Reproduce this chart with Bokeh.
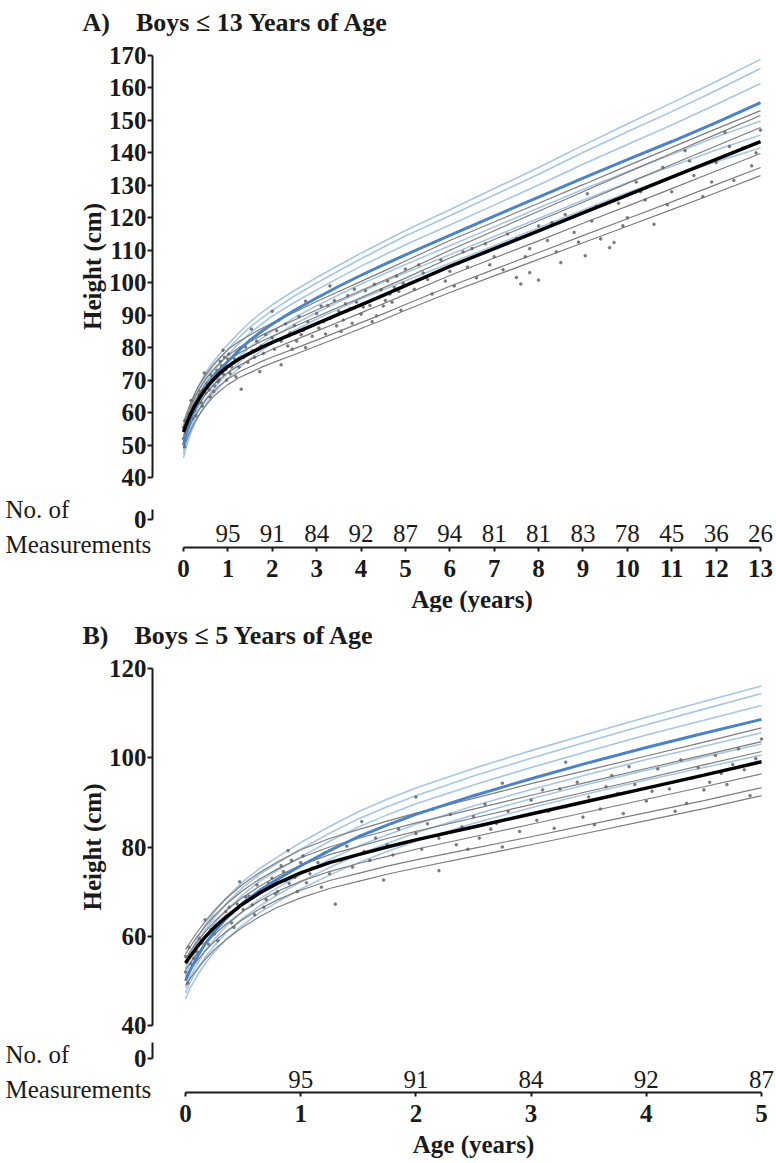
from bokeh.plotting import figure
from bokeh.models import LinearAxis, FixedTicker, Range1d, CustomJSTickFormatter
from bokeh.layouts import column
from bokeh.core.properties import value
from bokeh.embed import file_html
from bokeh.resources import INLINE

ages = [0, 0.04, 0.1, 0.17, 0.25, 0.35, 0.5, 0.65, 0.8, 1,
        1.25, 1.5, 1.75, 2, 2.5, 3, 3.5, 4, 4.5, 5,
        6, 7, 8, 9, 10, 11, 12, 13]

# reference percentiles (light blue, median in darker blue)
ref_p3 = [46.0, 48.4, 51.1, 53.9, 56.5, 59.2, 62.6, 65.4, 67.7, 70.6,
          73.7, 76.5, 79.0, 81.3, 85.3, 88.8, 92.0, 95.0, 97.8, 100.6,
          106.0, 111.4, 116.9, 122.4, 127.7, 132.6, 137.3, 141.5]
ref_p10 = [47.3, 49.7, 52.5, 55.3, 57.9, 60.7, 64.1, 66.9, 69.3, 72.2,
           75.4, 78.3, 80.8, 83.2, 87.2, 90.8, 94.1, 97.2, 100.2, 103.1,
           108.6, 114.2, 119.8, 125.4, 130.8, 135.9, 140.9, 145.5]
ref_p25 = [48.5, 50.9, 53.7, 56.7, 59.3, 62.2, 65.7, 68.5, 70.9, 73.9,
           77.2, 80.2, 82.7, 85.1, 89.2, 92.9, 96.3, 99.6, 102.6, 105.6,
           111.4, 117.2, 123.0, 128.7, 134.2, 139.5, 144.9, 149.8]
ref_p50 = [50.0, 52.4, 55.3, 58.3, 61.0, 63.9, 67.5, 70.4, 72.8, 75.8,
           79.2, 82.3, 84.9, 87.3, 91.5, 95.3, 98.9, 102.3, 105.5, 108.6,
           114.6, 120.5, 126.4, 132.2, 137.9, 143.5, 149.3, 155.5]
ref_p75 = [51.5, 53.9, 56.9, 60.0, 62.8, 65.7, 69.4, 72.4, 74.8, 77.8,
           81.3, 84.5, 87.2, 89.7, 93.9, 97.8, 101.5, 105.1, 108.4, 111.7,
           117.8, 123.9, 130.1, 136.5, 142.6, 148.6, 154.9, 161.4]
ref_p90 = [52.8, 55.3, 58.3, 61.4, 64.2, 67.2, 71.0, 74.0, 76.4, 79.5,
           83.1, 86.3, 89.0, 91.5, 95.9, 99.9, 103.7, 107.4, 110.9, 114.4,
           120.6, 127.0, 133.4, 140.1, 146.5, 152.7, 159.2, 166.0]
ref_p97 = [53.8, 56.3, 59.3, 62.5, 65.4, 68.5, 72.3, 75.3, 77.8, 81.0,
           84.6, 87.9, 90.7, 93.2, 97.6, 101.6, 105.4, 109.1, 112.6, 116.1,
           122.5, 129.0, 135.5, 142.3, 148.9, 155.4, 162.0, 168.8]

# study percentiles (grey, median in black)
study_p3 = [49.0, 50.5, 52.6, 54.8, 57.0, 59.2, 62.1, 64.5, 66.5, 68.6,
            70.7, 72.3, 73.9, 75.3, 77.9, 80.5, 83.2, 85.9, 88.6, 91.5,
            97.0, 102.1, 107.2, 112.3, 117.4, 122.5, 127.7, 133.0]
study_p10 = [51.0, 52.5, 54.5, 56.7, 58.8, 61.0, 63.8, 66.2, 68.2, 70.3,
             72.5, 74.1, 75.7, 77.1, 79.7, 82.3, 85.0, 87.7, 90.4, 93.3,
             98.9, 104.1, 109.3, 114.5, 119.7, 124.9, 130.2, 135.5]
study_p25 = [52.5, 54.0, 56.1, 58.2, 60.4, 62.7, 65.6, 68.0, 70.1, 72.3,
             74.5, 76.3, 77.9, 79.5, 82.3, 85.1, 87.9, 90.7, 93.5, 96.4,
             102.2, 107.6, 112.9, 118.3, 123.6, 129.0, 134.4, 139.8]
study_p50 = [54.0, 55.5, 57.6, 59.8, 62.0, 64.3, 67.3, 69.8, 71.9, 74.2,
             76.5, 78.3, 80.0, 81.6, 84.5, 87.4, 90.3, 93.2, 96.1, 99.1,
             105.0, 110.5, 116.0, 121.5, 127.0, 132.5, 138.0, 143.5]
study_p75 = [55.0, 56.6, 58.8, 61.0, 63.3, 65.7, 68.8, 71.3, 73.5, 75.9,
             78.3, 80.1, 81.9, 83.5, 86.5, 89.5, 92.5, 95.4, 98.4, 101.4,
             107.6, 113.3, 119.1, 124.8, 130.6, 136.4, 142.1, 147.8]
study_p90 = [56.0, 57.6, 59.9, 62.2, 64.6, 67.1, 70.3, 72.9, 75.1, 77.6,
             80.0, 81.9, 83.7, 85.4, 88.5, 91.6, 94.6, 97.6, 100.6, 103.6,
             110.0, 116.0, 122.0, 128.0, 134.0, 139.9, 145.7, 151.5]
study_p97 = [57.0, 58.6, 60.9, 63.3, 65.8, 68.4, 71.7, 74.4, 76.7, 79.4,
             81.9, 83.9, 85.8, 87.6, 90.9, 94.2, 97.3, 100.4, 103.5, 106.7,
             113.0, 118.7, 124.5, 130.2, 136.0, 141.7, 147.4, 153.0]

# individual measurements
dot_age = [
    0.00, 0.00, 0.02, 0.03, 0.05, 0.10, 0.12, 0.17, 0.20, 0.25,
    0.30, 0.35, 0.40, 0.45, 0.47, 0.50, 0.55, 0.60, 0.65, 0.70,
    0.75, 0.80, 0.85, 0.89, 0.90, 0.95, 1.00, 1.05, 1.10, 1.20,
    1.25, 1.30, 1.35, 1.40, 1.45, 1.53, 1.55, 1.60, 1.65, 1.72,
    1.75, 1.80, 1.85, 1.90, 2.00, 2.00, 2.05, 2.10, 2.20, 2.20,
    2.30, 2.35, 2.40, 2.50, 2.55, 2.60, 2.70, 2.75, 2.75, 2.80,
    2.90, 3.00, 3.05, 3.10, 3.20, 3.30, 3.30, 3.40, 3.45, 3.50,
    3.60, 3.70, 3.75, 3.80, 3.90, 4.00, 4.10, 4.20, 4.30, 4.35,
    4.40, 4.50, 4.60, 4.65, 4.70, 4.80, 4.85, 4.90, 4.95, 5.00,
    5.20, 5.30, 5.50, 5.60, 5.80, 6.00, 6.10, 6.30, 6.40, 6.60,
    6.80, 7.00, 7.20, 7.50, 7.50, 7.60, 7.80, 7.80, 8.00, 8.00,
    8.20, 8.40, 8.50, 8.60, 8.80, 9.05, 9.10, 9.20, 9.40, 9.60,
    9.70, 9.80, 10.0, 10.2, 10.4, 10.6, 10.8, 11.0, 11.3, 11.5,
    11.7, 12.0, 12.2, 12.4, 12.6, 12.8, 13.0, 0.07, 0.14, 0.22,
    0.28, 0.38, 0.42, 0.52, 0.58, 0.62, 0.68, 0.72, 0.78, 0.83,
    0.87, 0.92, 0.97, 1.02, 1.08, 1.15, 1.18, 2.15, 2.45, 2.65,
    3.15, 3.25, 3.55, 3.65, 3.85, 4.05, 4.25, 4.45, 4.55, 4.75,
    5.40, 5.90, 6.20, 6.50, 6.90, 7.30, 7.70, 8.30, 8.90, 9.30,
    9.90, 10.3, 10.9, 11.4, 11.9, 12.3, 12.9,
]
dot_height = [
    52.0, 55.5, 49.5, 57.5, 53.8, 56.5, 59.5, 63.7, 58.2, 60.5,
    62.8, 65.5, 63.0, 67.2, 72.2, 66.0, 69.0, 64.8, 70.3, 68.2,
    73.0, 70.0, 74.5, 79.2, 71.8, 73.2, 76.5, 72.0, 75.3, 78.6,
    74.0, 67.2, 77.0, 80.2, 75.5, 85.7, 79.0, 77.0, 82.0, 72.6,
    80.5, 78.2, 84.0, 81.0, 91.2, 83.0, 79.5, 85.2, 74.7, 82.0,
    87.3, 80.5, 84.5, 86.8, 82.0, 89.6, 85.3, 80.0, 94.3, 88.0,
    83.5, 90.5, 86.0, 92.8, 84.2, 89.0, 99.0, 94.5, 86.7, 91.2,
    88.5, 96.0, 92.0, 87.5, 94.0, 90.3, 97.5, 93.0, 99.5, 89.8,
    95.4, 92.8, 100.5, 96.5, 94.0, 102.0, 97.3, 91.5, 99.8, 104.2,
    98.0, 105.5, 101.0, 96.5, 107.0, 103.5, 99.0, 109.5, 104.8, 101.5,
    112.0, 108.0, 104.0, 101.6, 113.5, 99.6, 103.1, 110.5, 100.8, 117.5,
    113.0, 109.5, 106.2, 121.0, 115.5, 108.3, 127.4, 119.0, 113.5, 110.8,
    112.4, 124.5, 120.0, 131.0, 125.5, 118.0, 135.5, 128.0, 140.7, 133.0,
    126.5, 137.0, 146.3, 131.5, 141.5, 136.0, 147.0, 55.0, 58.5, 61.5,
    59.0, 66.5, 62.0, 68.8, 67.0, 71.5, 66.5, 72.0, 69.5, 75.8,
    72.5, 77.0, 70.0, 78.0, 74.0, 76.5, 71.0, 88.5, 79.5, 84.0,
    88.0, 93.0, 85.0, 93.5, 98.0, 92.5, 88.0, 97.8, 94.5, 98.5,
    103.0, 100.5, 106.0, 110.5, 105.5, 115.0, 108.0, 118.5, 112.5, 123.5,
    117.5, 128.0, 124.0, 137.5, 131.0, 142.0, 140.0,
]

# number of measurements per year of age
count_age = [1, 2, 3, 4, 5, 6, 7, 8, 9, 10, 11, 12, 13]
counts = [95, 91, 84, 92, 87, 94, 81, 81, 83, 78, 45, 36, 26]

SERIF = "Liberation Serif"
LIGHT = "#a5c6e6"
BLUE = "#4a84c6"
GRAY = "#7d7d7d"
INK = "#1a1a1a"


def style_axis(ax, tick_out):
    ax.axis_line_width = 2
    ax.axis_line_color = INK
    ax.major_tick_line_width = 2
    ax.major_tick_line_color = INK
    ax.major_tick_out = tick_out
    ax.major_tick_in = 0
    ax.minor_tick_line_color = None
    ax.major_label_text_font = SERIF
    ax.major_label_text_font_style = "bold"
    ax.major_label_text_font_size = "25px"
    ax.major_label_text_color = INK
    ax.axis_label_text_font = SERIF
    ax.axis_label_text_font_style = "bold"
    ax.axis_label_text_font_size = "25px"
    ax.axis_label_text_color = INK


def panel(title, age_max, height, xr, yr, yaxis_x, yticks, zero_y, zero_top,
          xaxis_y, count_y, label_x, noof_y, meas_y, title_x, title_y):
    p = figure(width=776, height=height, x_range=Range1d(*xr), y_range=Range1d(*yr),
               output_backend="svg", toolbar_location=None,
               x_axis_location=None, y_axis_location=None,
               min_border=0, outline_line_color=None)
    p.grid.visible = False

    n = len([a for a in ages if a <= age_max])
    xs = ages[:n]
    for ref in (ref_p3, ref_p10, ref_p25, ref_p75, ref_p90, ref_p97):
        p.line(xs, ref[:n], line_color=LIGHT, line_width=1.6)
    for st in (study_p3, study_p10, study_p25, study_p75, study_p90, study_p97):
        p.line(xs, st[:n], line_color=GRAY, line_width=1.2)
    sel = [i for i, a in enumerate(dot_age) if a <= age_max]
    p.scatter([dot_age[i] for i in sel], [dot_height[i] for i in sel],
              size=2.6, color="#666666", alpha=0.8)
    p.line(xs, ref_p50[:n], line_color=BLUE, line_width=3)
    p.line(xs, study_p50[:n], line_color="black", line_width=3.5)

    # height axis, broken below 40 with a separate 0 stub
    yax = LinearAxis(fixed_location=yaxis_x, bounds=(yticks[0], yticks[-1]),
                     ticker=FixedTicker(ticks=yticks), axis_label="Height (cm)",
                     major_label_standoff=1, axis_label_standoff=0)
    style_axis(yax, 5)
    p.add_layout(yax, "left")
    zax = LinearAxis(fixed_location=yaxis_x, bounds=(zero_y, zero_top),
                     ticker=FixedTicker(ticks=[zero_y]),
                     formatter=CustomJSTickFormatter(code="return '0';"),
                     major_label_standoff=1)
    style_axis(zax, 5)
    p.add_layout(zax, "left")

    # age axis
    xticks = list(range(0, age_max + 1))
    xax = LinearAxis(fixed_location=xaxis_y, bounds=(0, age_max),
                     ticker=FixedTicker(ticks=xticks), axis_label="Age (years)",
                     major_label_standoff=9, axis_label_standoff=5)
    style_axis(xax, 4)
    p.add_layout(xax, "below")

    cx = [a for a in count_age if a <= age_max]
    cn = [str(c) for a, c in zip(count_age, counts) if a <= age_max]
    p.text(cx, [count_y] * len(cx), text=cn, text_font=value(SERIF),
           text_font_size="25px", text_color=INK, text_align="center", text_baseline="middle")
    p.text([label_x, label_x], [noof_y, meas_y], text=["No. of", "Measurements"],
           text_font=value(SERIF), text_font_size="25px", text_color=INK,
           text_align="left", text_baseline="middle")
    p.text([title_x], [title_y], text=[title], text_font=value(SERIF),
           text_font_style="bold", text_font_size="26px", text_color=INK,
           text_align="left", text_baseline="alphabetic")
    return p


pa = panel("A)\u2003Boys \u2264 13 Years of Age", 13, 612,
           (-4.123, 13.360), (-1.60, 186.94), -0.698,
           [40, 50, 60, 70, 80, 90, 100, 110, 120, 130, 140, 150, 160, 170],
           27.06, 30.14, 18.43, 22.74, -4.01, 30.13, 19.35, -2.276, 180.17)
pb = panel("B)\u2003Boys \u2264 5 Years of Age", 5, 551,
           (-1.606, 5.130), (9.08, 132.55), -0.2865,
           [40, 60, 80, 100, 120],
           32.61, 36.19, 24.99, 27.90, -1.5625, 33.50, 25.66, -0.894, 127.39)

layout = column(pa, pb)
open("out.html", "w").write(file_html(layout, INLINE))
